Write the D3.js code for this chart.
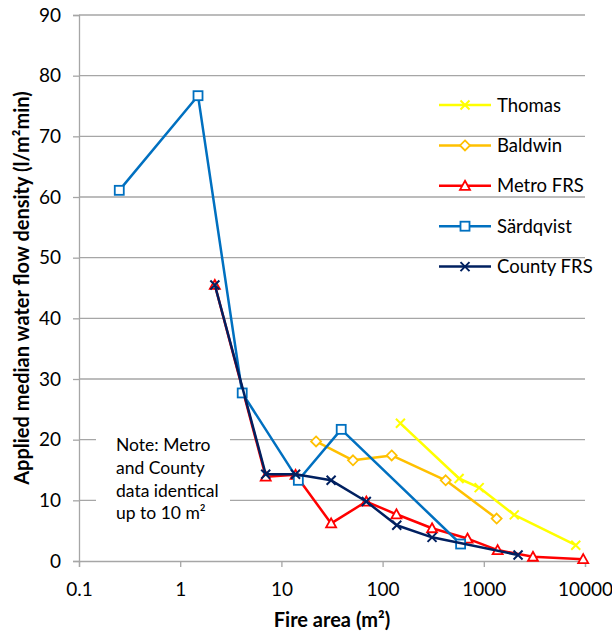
<!DOCTYPE html>
<html>
<head>
<meta charset="utf-8">
<script src="https://cdn.jsdelivr.net/npm/d3@7"></script>
<style>
    body { margin: 0; background: #fff; }
    text { font-family: Lato, "Open Sans", sans-serif; fill: #000; }
</style>
</head>
<body>
<div id="chart"></div>
<script>
// Fire area (m2) and applied median water flow density per data set
const thomasX = [150, 570, 900, 2000, 8100];
const thomasY = [22.7, 13.6, 12.1, 7.6, 2.6];

const baldwinX = [22, 51, 123, 420, 1340];
const baldwinY = [19.7, 16.6, 17.4, 13.3, 7.0];

const metroX = [2.2, 7, 13.8, 31, 69, 137, 308, 690, 1370, 3060, 9600];
const metroY = [45.5, 13.9, 14.2, 6.2, 9.8, 7.7, 5.4, 3.7, 1.8, 0.7, 0.3];

const sardX = [0.25, 1.5, 4.1, 14.7, 39, 590];
const sardY = [61.1, 76.7, 27.7, 13.3, 21.7, 2.8];

const countyX = [2.2, 7, 13.8, 31, 69, 138, 308, 2180];
const countyY = [45.5, 14.3, 14.3, 13.3, 9.8, 5.9, 3.9, 1.0];

const seriesNames = ["Thomas", "Baldwin", "Metro FRS", "Särdqvist", "County FRS"];

const xTicks = [0.1, 1, 10, 100, 1000, 10000];
const yTicks = [0, 10, 20, 30, 40, 50, 60, 70, 80, 90];

const noteLines = ["Note: Metro", "and County", "data identical", "up to 10 m²"];

// Chart props
const width = 612, height = 634;
const margin = {top: 15, right: 27, bottom: 73, left: 79};

const series = [
    {name: seriesNames[0], xs: thomasX, ys: thomasY, color: "#ffff00", marker: "x"},
    {name: seriesNames[1], xs: baldwinX, ys: baldwinY, color: "#ffc000", marker: "diamond"},
    {name: seriesNames[2], xs: metroX, ys: metroY, color: "#ff0000", marker: "triangle"},
    {name: seriesNames[3], xs: sardX, ys: sardY, color: "#0070c0", marker: "square"},
    {name: seriesNames[4], xs: countyX, ys: countyY, color: "#002060", marker: "x"}
];

const svg = d3.select("#chart").append("svg")
    .attr("width", width)
    .attr("height", height);

const xScale = d3.scaleLog()
    .domain([0.1, 10000])
    .range([margin.left, width - margin.right]);

const yScale = d3.scaleLinear()
    .domain([0, 90])
    .range([height - margin.bottom, margin.top]);

// Gridlines
svg.append("g")
    .selectAll("line")
    .data(yTicks.filter(d => d > 0))
    .join("line")
    .attr("x1", margin.left)
    .attr("x2", width - margin.right)
    .attr("y1", d => yScale(d))
    .attr("y2", d => yScale(d))
    .attr("stroke", "#a6a6a6")
    .attr("stroke-width", 1.3);

// Axes
const xAxis = d3.axisBottom(xScale)
    .tickValues(xTicks)
    .tickFormat(d => String(d))
    .tickSize(6)
    .tickPadding(16);

const yAxis = d3.axisLeft(yScale)
    .tickValues(yTicks)
    .tickSize(6)
    .tickPadding(12);

const xAxisGroup = svg.append("g")
    .attr("transform", "translate(0," + yScale(0) + ")")
    .call(xAxis);

const yAxisGroup = svg.append("g")
    .attr("transform", "translate(" + margin.left + ",0)")
    .call(yAxis);

[xAxisGroup, yAxisGroup].forEach(g => {
    g.select(".domain").attr("stroke", "#a6a6a6").attr("stroke-width", 1.3);
    g.selectAll(".tick line").attr("stroke", "#a6a6a6").attr("stroke-width", 1.3);
    g.selectAll(".tick text")
        .style("font-family", "Lato, 'Open Sans', sans-serif")
        .style("font-size", "19px")
        .attr("fill", "#000");
});

// Axis titles
svg.append("text")
    .attr("x", 332)
    .attr("y", 627)
    .attr("text-anchor", "middle")
    .style("font-size", "20px")
    .style("font-weight", "bold")
    .text("Fire area (m²)");

svg.append("text")
    .attr("transform", "translate(29," + (margin.top + height - margin.bottom) / 2 + ") rotate(-90)")
    .attr("text-anchor", "middle")
    .style("font-size", "20px")
    .style("font-weight", "bold")
    .text("Applied median water flow density (l/m²min)");

// Note box covering the gridlines
const note = svg.append("g");
note.append("rect")
    .attr("x", 96)
    .attr("y", 425)
    .attr("width", 134)
    .attr("height", 105)
    .attr("fill", "#fff");
note.selectAll("text")
    .data(noteLines)
    .join("text")
    .attr("x", 116)
    .attr("y", (d, i) => 451 + i * 22.8)
    .style("font-size", "17.5px")
    .text(d => d);

// Marker drawing
function drawMarker(g, type, color) {
    if (type === "x") {
        g.append("path")
            .attr("d", "M-4.5,-4.5L4.5,4.5M-4.5,4.5L4.5,-4.5")
            .attr("stroke", color)
            .attr("stroke-width", 2)
            .attr("fill", "none");
    } else if (type === "diamond") {
        g.append("path")
            .attr("d", "M0,-5L5,0L0,5L-5,0Z")
            .attr("stroke", color)
            .attr("stroke-width", 1.8)
            .attr("fill", "#fff");
    } else if (type === "triangle") {
        g.append("path")
            .attr("d", "M0,-5L5,4L-5,4Z")
            .attr("stroke", color)
            .attr("stroke-width", 1.8)
            .attr("fill", "#fff");
    } else if (type === "square") {
        g.append("rect")
            .attr("x", -4.5)
            .attr("y", -4.5)
            .attr("width", 9)
            .attr("height", 9)
            .attr("stroke", color)
            .attr("stroke-width", 1.8)
            .attr("fill", "#fff");
    }
}

const line = d3.line()
    .x(d => xScale(d[0]))
    .y(d => yScale(d[1]));

// Draw each series
series.forEach(s => {
    const pts = s.xs.map((x, i) => [x, s.ys[i]]);
    const g = svg.append("g");
    g.append("path")
        .datum(pts)
        .attr("d", line)
        .attr("fill", "none")
        .attr("stroke", s.color)
        .attr("stroke-width", 2.5)
        .attr("stroke-linejoin", "round");
    g.selectAll(".marker")
        .data(pts)
        .join("g")
        .attr("class", "marker")
        .attr("transform", d => "translate(" + xScale(d[0]) + "," + yScale(d[1]) + ")")
        .each(function () {
            drawMarker(d3.select(this), s.marker, s.color);
        });
});

// Legend
const legend = svg.append("g").attr("class", "legend");
series.forEach((s, i) => {
    const y = 105 + i * 40.4;
    const row = legend.append("g").attr("transform", "translate(0," + y + ")");
    row.append("line")
        .attr("x1", 439)
        .attr("x2", 491)
        .attr("stroke", s.color)
        .attr("stroke-width", 2.5);
    const m = row.append("g").attr("transform", "translate(465,0)");
    drawMarker(m, s.marker, s.color);
    row.append("text")
        .attr("x", 497)
        .attr("y", 6.5)
        .style("font-size", "18.5px")
        .text(s.name);
});
</script>
</body>
</html>
